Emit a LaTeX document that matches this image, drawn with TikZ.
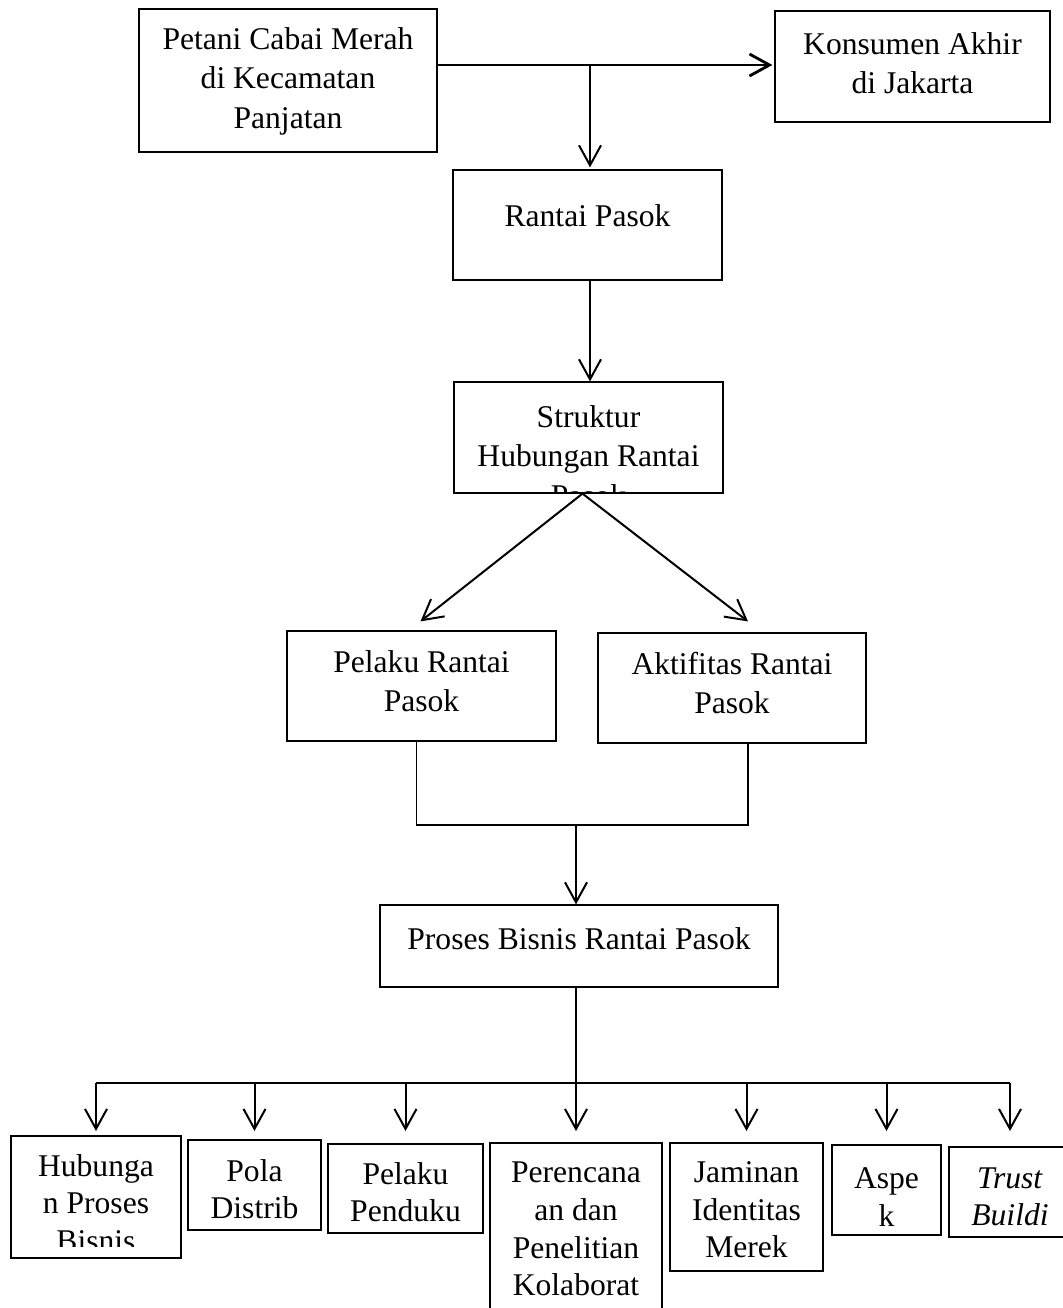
\documentclass[tikz,border=0pt]{standalone}
\usepackage{fontspec}
\setmainfont{Liberation Serif}
\usetikzlibrary{arrows.meta}
\tikzset{
  KotakStyle/.style = { draw, rectangle, inner sep=0pt, line width=0.6pt },
  TeksStyle/.style  = { inner sep=0pt, align=center,
                        font=\fontsize{15.8}{19.8}\selectfont },
  TeksKecil/.style  = { TeksStyle, font=\fontsize{15.8}{18.8}\selectfont },
  PanahStyle/.style = { -{Straight Barb[length=10pt,width=11pt]}, line width=1pt },
  GarisStyle/.style = { line width=0.6pt } }

\begin{document}
\begin{tikzpicture}[x=0.5pt, y=-0.5pt]
  \useasboundingbox (0,0) rectangle (1062,1308);
  % kotak-kotak
  \node[KotakStyle, minimum width=149pt, minimum height=71.5pt](petani) at (288,80.5) {};
  \node[KotakStyle, minimum width=137.5pt, minimum height=55.5pt](konsumen) at (912.5,66.5) {};
  \node[KotakStyle, minimum width=134.5pt, minimum height=55pt](rantai) at (587.5,225) {};
  \node[KotakStyle, minimum width=134.5pt, minimum height=55.5pt](struktur) at (588.5,437.5) {};
  \node[KotakStyle, minimum width=134.5pt, minimum height=55pt](pelaku) at (421.5,686) {};
  \node[KotakStyle, minimum width=134pt, minimum height=55pt](aktifitas) at (732,688) {};
  \node[KotakStyle, minimum width=199pt, minimum height=41pt](proses) at (579,946) {};
  \node[KotakStyle, minimum width=85pt, minimum height=61pt](hubungan) at (96,1197) {};
  \node[KotakStyle, minimum width=66.5pt, minimum height=45pt](pola) at (254.5,1185) {};
  \node[KotakStyle, minimum width=77.5pt, minimum height=44.5pt](pendukung) at (405.5,1188.5) {};
  \node[KotakStyle, minimum width=86pt, minimum height=93.5pt](perencanaan) at (576,1236.5) {};
  \node[KotakStyle, minimum width=76.5pt, minimum height=64pt](jaminan) at (746.5,1207) {};
  \node[KotakStyle, minimum width=54.5pt, minimum height=45pt](aspek) at (886.5,1190) {};
  \node[KotakStyle, minimum width=61pt, minimum height=45pt](trust) at (1010,1192) {};

  % teks
  \node[TeksStyle](petaniT) at (288,81) {Petani Cabai Merah\\di Kecamatan\\Panjatan};
  \node[TeksStyle](konsumenT) at (912.5,63) {Konsumen Akhir\\di Jakarta};
  \node[TeksStyle](rantaiT) at (587.5,216) {Rantai Pasok};
  \begin{scope}
    \clip (struktur.south west) rectangle (struktur.north east);
    \node[TeksStyle](strukturT) at (588.5,456) {Struktur\\Hubungan Rantai\\Pasok};
  \end{scope}
  \node[TeksStyle](pelakuT) at (421.5,681) {Pelaku Rantai\\Pasok};
  \node[TeksStyle](aktifitasT) at (732,683) {Aktifitas Rantai\\Pasok};
  \node[TeksStyle](prosesT) at (579,939) {Proses Bisnis Rantai Pasok};
  \begin{scope}
    \clip ([yshift=6pt]hubungan.south west) rectangle (hubungan.north east);
    \node[TeksKecil](hubunganT) at (96,1203) {Hubunga\\n Proses\\Bisnis};
  \end{scope}
  \node[TeksKecil](polaT) at (254.5,1189) {Pola\\Distrib};
  \node[TeksKecil](pendukungT) at (405.5,1192) {Pelaku\\Penduku};
  \node[TeksKecil](perencanaanT) at (576,1229) {Perencana\\an dan\\Penelitian\\Kolaborat};
  \node[TeksKecil](jaminanT) at (746.5,1210) {Jaminan\\Identitas\\Merek};
  \node[TeksKecil](aspekT) at (886.5,1197) {Aspe\\k};
  \node[TeksKecil](trustT) at (1010,1197) {\textit{Trust}\\\textit{Buildi}};

  % penghubung
  \coordinate (cabang) at (590,65);
  \draw[PanahStyle, line width=1.4pt] (petani.east |- cabang) -- ([xshift=-1pt]konsumen.west |- cabang);
  \draw[PanahStyle] (cabang) -- ([yshift=1pt]rantai.north -| cabang);
  \draw[PanahStyle] (rantai.south -| cabang) -- (struktur.north -| cabang);
  \draw[PanahStyle] ([xshift=-3pt]struktur.south) -- ([xshift=-0.5pt,yshift=4.5pt]pelaku.north);
  \draw[PanahStyle] ([xshift=-3pt]struktur.south) -- ([xshift=8pt,yshift=5.5pt]aktifitas.north);
  \coordinate (gabung) at (576,825);
  \draw[GarisStyle] ([xshift=-2.5pt]pelaku.south) |- (gabung) -| ([xshift=8pt]aktifitas.south);
  \draw[PanahStyle] (gabung) -- (proses.north -| gabung);
  \coordinate (bus) at (576,1083);
  \coordinate (ujung) at (576,1131);
  \draw[GarisStyle] (proses.south -| bus) -- (bus);
  \draw[GarisStyle] (hubungan |- bus) -- (trust |- bus);
  \foreach \n in {hubungan,pola,pendukung,perencanaan,jaminan,aspek,trust}
    \draw[PanahStyle] (\n |- bus) -- (\n |- ujung);
\end{tikzpicture}
\end{document}
